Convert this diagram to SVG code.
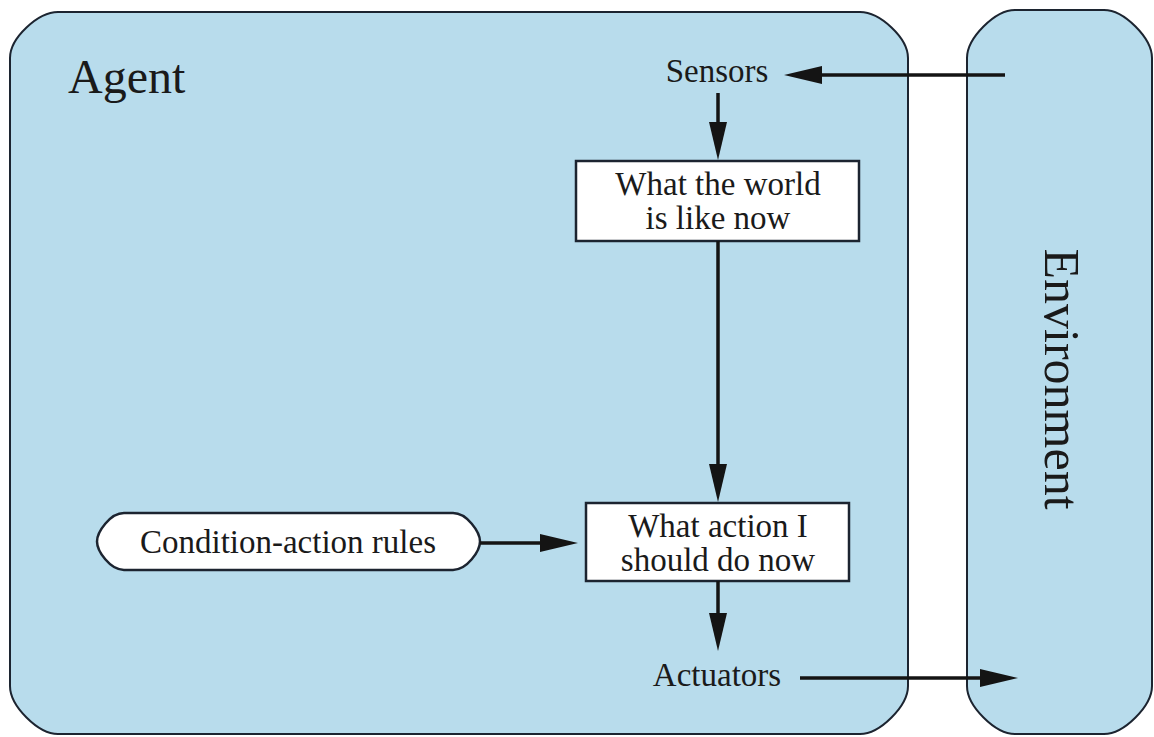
<svg xmlns="http://www.w3.org/2000/svg" width="1154" height="737" viewBox="0 0 1154 737">
  <style>
    .frame { fill: #b8dcec; stroke: #1c2430; stroke-width: 2; }
    .box { fill: #ffffff; stroke: #1c2430; stroke-width: 2.5; }
    .lbl { font-family: "Liberation Serif", "Times New Roman", serif; fill: #1a1a1a; font-size: 33px; text-anchor: middle; }
    .big { font-family: "Liberation Serif", "Times New Roman", serif; fill: #1a1a1a; }
    .conn { stroke: #141414; stroke-width: 3.5; fill: none; marker-end: url(#ah); }
  </style>
  <defs>
    <marker id="ah" markerUnits="userSpaceOnUse" markerWidth="40" markerHeight="18" refX="2" refY="9" orient="auto" viewBox="0 0 40 18">
      <path d="M0,0 L38,9 L0,18 z" fill="#141414"/>
    </marker>
  </defs>
  <rect width="1154" height="737" fill="#ffffff"/>

  <g id="agent">
    <path class="frame" d="M10,58 C10,38 38,12 58,12 H860 C880,12 908,38 908,58 V686 C908,706 880,734 860,734 H58 C38,734 10,706 10,686 Z"/>
    <text class="big" x="68" y="93" font-size="48">Agent</text>
  </g>

  <g id="environment">
    <path class="frame" d="M967,58 C967,38 995,10 1015,10 H1104 C1124,10 1152,38 1152,58 V686 C1152,706 1124,734 1104,734 H1015 C995,734 967,706 967,686 Z"/>
    <text class="big" transform="translate(1045,379) rotate(90)" x="0" y="0" font-size="50" text-anchor="middle">Environment</text>
  </g>

  <g id="sensors">
    <text class="lbl" x="717" y="82">Sensors</text>
  </g>

  <g id="world-now">
    <rect class="box" x="576" y="161" width="283" height="80"/>
    <text class="lbl" x="718" y="195">What the world</text>
    <text class="lbl" x="718" y="229">is like now</text>
  </g>

  <g id="rules">
    <path class="box" d="M124,513 H453 C467,513 480,532 480,541.5 C480,551 467,570 453,570 H124 C110,570 97,551 97,541.5 C97,532 110,513 124,513 Z"/>
    <text class="lbl" x="288" y="553">Condition-action rules</text>
  </g>

  <g id="action-now">
    <rect class="box" x="586" y="503" width="263" height="78"/>
    <text class="lbl" x="718" y="537">What action I</text>
    <text class="lbl" x="718" y="571">should do now</text>
  </g>

  <g id="actuators">
    <text class="lbl" x="717" y="686">Actuators</text>
  </g>

  <g id="connectors">
    <line class="conn" x1="1005" y1="75" x2="820" y2="75"/>
    <line class="conn" x1="718" y1="93" x2="718" y2="124"/>
    <line class="conn" x1="718" y1="241" x2="718" y2="466"/>
    <line class="conn" x1="480" y1="543" x2="542" y2="543"/>
    <line class="conn" x1="718" y1="581" x2="718" y2="615"/>
    <line class="conn" x1="800" y1="678" x2="982" y2="678"/>
  </g>
</svg>
